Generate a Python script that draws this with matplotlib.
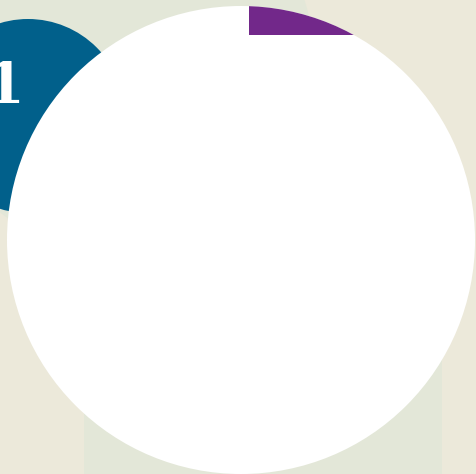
import matplotlib
matplotlib.use("Agg")
import matplotlib.pyplot as plt
from matplotlib.patches import Circle, Rectangle

# ================= SHAPES (pixel space, y down) =================
bg_color = "#ece9da"
green_color = "#e3e7d8"
blue_color = "#01608b"
purple_color = "#72288a"

green_circle = (120, 60, 194)        # cx, cy, r
green_rect = (84, 300, 358, 180)     # x, y, w, h
blue_circle = (28, 116, 97)
white_circle = (241, 240, 234)
purple_rect = (249, -10, 300, 45)
label_text = "1"
label_pos = (4, 87)

fig = plt.figure(figsize=(4.77, 4.74), dpi=100, facecolor=bg_color)
ax = fig.add_axes([0, 0, 1, 1])
ax.set_xlim(0, 477)
ax.set_ylim(474, 0)
ax.set_facecolor(bg_color)
ax.axis("off")

ax.add_patch(Circle(green_circle[:2], green_circle[2], color=green_color, lw=0))
ax.add_patch(Rectangle(green_rect[:2], green_rect[2], green_rect[3], color=green_color, lw=0))
ax.add_patch(Circle(blue_circle[:2], blue_circle[2], color=blue_color, lw=0))
ax.text(label_pos[0], label_pos[1], label_text, color="white", fontsize=40,
        fontweight="bold", family="DejaVu Serif", ha="center", va="center")

white = Circle(white_circle[:2], white_circle[2], color="white", lw=0)
ax.add_patch(white)
purple = Rectangle(purple_rect[:2], purple_rect[2], purple_rect[3], color=purple_color, lw=0)
ax.add_patch(purple)
purple.set_clip_path(white)

fig.savefig("out.png", dpi=100, facecolor=bg_color)
